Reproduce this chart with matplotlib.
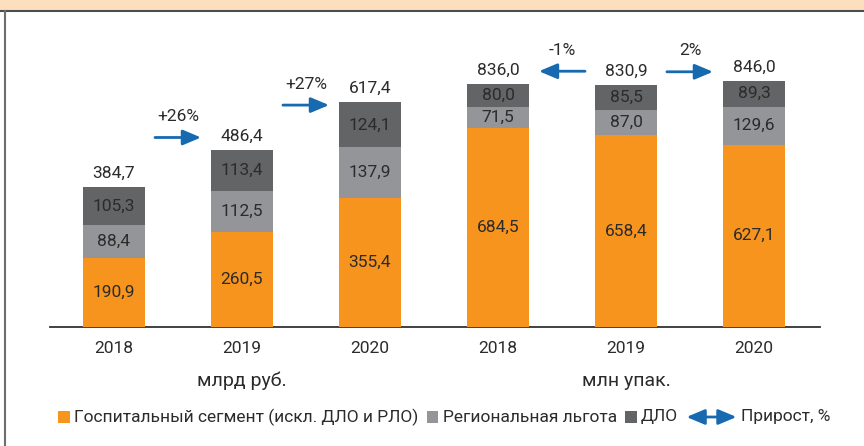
import matplotlib
matplotlib.use('Agg')
import matplotlib.pyplot as plt
import matplotlib.patches as mpatches
from matplotlib import transforms
from matplotlib.offsetbox import HPacker, TextArea, DrawingArea, AnchoredOffsetbox

plt.rcParams['font.family'] = ['Roboto', 'DejaVu Sans']

# data
years = ['2018', '2019', '2020']
hosp_rub = [190.9, 260.5, 355.4]
reg_rub = [88.4, 112.5, 137.9]
dlo_rub = [105.3, 113.4, 124.1]
total_rub = [384.7, 486.4, 617.4]

hosp_pack = [684.5, 658.4, 627.1]
reg_pack = [71.5, 87.0, 129.6]
dlo_pack = [80.0, 85.5, 89.3]
total_pack = [836.0, 830.9, 846.0]

growth = ['+26%', '+27%', '-1%', '2%']
units = ['млрд руб.', 'млн упак.']
series_names = ['Госпитальный сегмент (искл. ДЛО и РЛО)', 'Региональная льгота', 'ДЛО']
growth_name = 'Прирост, %'

c_hosp = '#F7941D'
c_reg = '#939598'
c_dlo = '#636466'
c_arrow = '#1769B0'
c_text = '#2b2b2b'
fs = 12.5
head = 'head_length=1.0,head_width=0.42'

def fmt(v):
    return f'{v:.1f}'.replace('.', ',')

fig = plt.figure(figsize=(8.64, 4.46), dpi=100)

# header band and frame
fig.add_artist(mpatches.Rectangle((0, 1 - 11/446), 1, 11/446, transform=fig.transFigure,
                                  facecolor='#FDDFBD', edgecolor='none'))
fig.add_artist(plt.Line2D([0, 1], [1 - 11/446, 1 - 11/446], transform=fig.transFigure,
                          color='#4d4d4d', lw=1.5))
fig.add_artist(plt.Line2D([4.5/864, 4.5/864], [0, 1 - 11/446], transform=fig.transFigure,
                          color='#6d6d6d', lw=1.5))

ax = fig.add_axes([50/864, 119/446, 770/864, 307/446])
ax2 = ax.twinx()
ax.set_xlim(-0.5, 5.516)
ax.set_ylim(0, 843.6)
ax2.set_ylim(0, 1055)

bw = 0.484
groups = [(ax, [0, 1, 2], hosp_rub, reg_rub, dlo_rub, total_rub),
          (ax2, [3, 4, 5], hosp_pack, reg_pack, dlo_pack, total_pack)]
for a, xs, h, r, d, t in groups:
    bottoms_r = h
    bottoms_d = [hh + rr for hh, rr in zip(h, r)]
    a.bar(xs, h, bw, color=c_hosp, zorder=3)
    a.bar(xs, r, bw, bottom=bottoms_r, color=c_reg, zorder=3)
    a.bar(xs, d, bw, bottom=bottoms_d, color=c_dlo, zorder=3)
    for i, x in enumerate(xs):
        a.text(x, h[i] / 2, fmt(h[i]), ha='center', va='center', fontsize=fs, color=c_text, zorder=4)
        a.text(x, bottoms_r[i] + r[i] / 2, fmt(r[i]), ha='center', va='center', fontsize=fs, color=c_text, zorder=4)
        a.text(x, bottoms_d[i] + d[i] / 2, fmt(d[i]), ha='center', va='center', fontsize=fs, color=c_text, zorder=4)
        a.annotate(fmt(t[i]), xy=(x, t[i]), xytext=(0, 10), textcoords='offset points',
                   ha='center', va='center', fontsize=fs, color=c_text)

# growth arrows between neighbouring bars
arrow_off = [9, -2, 9, 6.5]   # points above the higher total
for k, g in enumerate(growth):
    a, xs, h, r, d, t = groups[k // 2]
    i = k % 2
    xm = xs[i] + 0.5
    top = max(t[i], t[i + 1])
    tr = transforms.offset_copy(a.transData, fig=fig, y=arrow_off[k], units='points')
    tail, tip = (xm - 0.18, xm + 0.18)
    if g.startswith('-'):
        tail, tip = tip, tail
    a.annotate('', xy=(tip, top), xytext=(tail, top), xycoords=tr, textcoords=tr,
               arrowprops=dict(arrowstyle='-|>,' + head, mutation_scale=11,
                               color=c_arrow, lw=2, shrinkA=0, shrinkB=0))
    a.annotate(g, xy=(xm, top), xycoords=tr, xytext=(0, 15), textcoords='offset points',
               ha='center', va='center', fontsize=fs, color=c_text)

for a in (ax, ax2):
    for s in ['top', 'right', 'left']:
        a.spines[s].set_visible(False)
    a.set_yticks([])
ax2.spines['bottom'].set_visible(False)
ax.spines['bottom'].set_color('#333333')
ax.spines['bottom'].set_linewidth(1.3)
ax.spines['bottom'].set_zorder(2)
ax.set_xticks(range(6))
ax.set_xticklabels(years + years, fontsize=fs, color=c_text)
ax.tick_params(axis='x', length=0, pad=10)

for j, u in enumerate(units):
    ax.text(1 + 3 * j, -0.176, u, transform=ax.get_xaxis_transform(), ha='center', va='center',
            fontsize=14, color=c_text)

# legend row
items = []
for c, name in zip([c_hosp, c_reg, c_dlo], series_names):
    da = DrawingArea(8.5, 8.5)
    da.add_artist(mpatches.Rectangle((0, 0), 8.5, 8.5, facecolor=c, edgecolor='none'))
    items.append(HPacker(children=[da, TextArea(name, textprops=dict(fontsize=fs, color=c_text))],
                         pad=0, sep=3, align='center'))
da = DrawingArea(36, 9)
da.add_artist(mpatches.FancyArrowPatch((0, 4.5), (36, 4.5), arrowstyle='<|-|>,' + head,
                                       mutation_scale=11, color=c_arrow, lw=2, shrinkA=0, shrinkB=0))
items.append(HPacker(children=[da, TextArea(growth_name, textprops=dict(fontsize=fs, color=c_text))],
                     pad=0, sep=3, align='center'))
row = HPacker(children=items, pad=0, sep=6, align='center')
box = AnchoredOffsetbox(loc='center', child=row, frameon=False, pad=0,
                        bbox_to_anchor=(0.514, 1 - 417/446), bbox_transform=fig.transFigure)
fig.add_artist(box)

fig.savefig('out.png', dpi=100)
